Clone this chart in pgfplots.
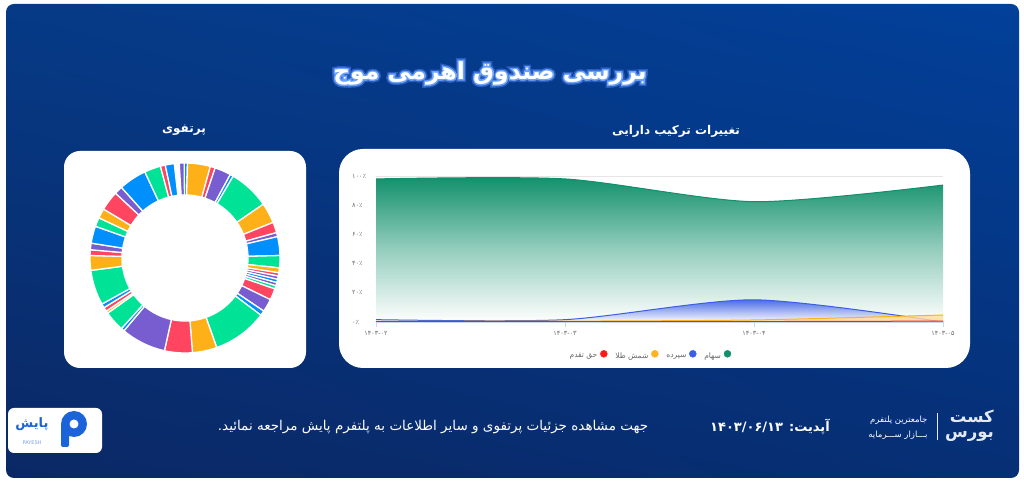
\documentclass[border=0pt]{standalone}
\usepackage{fontspec}
\setmainfont{DejaVu Sans}
\newfontfamily\fa[Script=Arabic]{DejaVu Sans}
\usepackage{pgfplots}
\pgfplotsset{compat=1.18}
\usepgfplotslibrary{polar}
\usetikzlibrary{shadings}
\TeXXeTstate=1
\definecolor{cardA}{HTML}{0B2865}
\definecolor{cardB}{HTML}{02409A}
\definecolor{cardC}{HTML}{063A86}
\definecolor{cardD}{HTML}{062F75}
\definecolor{sahm}{HTML}{11906B}
\definecolor{sepor}{HTML}{3A5EE6}
\definecolor{gold}{HTML}{FFB11F}
\definecolor{haq}{HTML}{FF1A1A}
\definecolor{aG}{HTML}{00E396}
\definecolor{aO}{HTML}{FEB019}
\definecolor{aR}{HTML}{FF4560}
\definecolor{aP}{HTML}{775DD0}
\definecolor{aB}{HTML}{008FFB}
\definecolor{axisC}{HTML}{CCD6EB}
\definecolor{gridC}{HTML}{E6E6E6}
\definecolor{labC}{HTML}{666666}
\definecolor{payB}{HTML}{1B63D8}
\definecolor{logoC}{HTML}{E4EAF4}
\newcommand\fatext[1]{{\fa\beginR #1\endR}}
\newcommand\titletext{\fatext{بررسی صندوق اهرمی موج}}
% donut slice: start, end (degrees clockwise from top), colour
\newcommand\slice[3]{%
  \gdef\pts{}%
  \foreach \k in {0,...,8}{\pgfmathsetmacro\ang{90-(#1)-((#2)-(#1))*\k/8}\xdef\pts{\pts(\ang,95)}}%
  \foreach \k in {8,...,0}{\pgfmathsetmacro\ang{90-(#1)-((#2)-(#1))*\k/8}\xdef\pts{\pts(\ang,63)}}%
  \edef\tmp{\noexpand\addplot[fill=#3,draw=white,line width=1.3pt] coordinates {\pts} -- cycle;}\tmp}
\begin{document}
\begin{tikzpicture}[x=1pt,y=1pt]
\path[use as bounding box] (0,0) rectangle (1024,486);
\fill[white] (0,0) rectangle (1024,486);
\shade[rounded corners=8pt, lower left=cardA, upper right=cardB, upper left=cardC, lower right=cardD] (6,8) rectangle (1019,482);
% panels
\fill[white, rounded corners=16pt] (64,118) rectangle (306,335);
\fill[white, rounded corners=24pt] (339,118) rectangle (970,337);
% title with glow (stroked outlines under the white text)
\node[text=white, font=\bfseries\fontsize{23.5}{27}\selectfont] at (490,413)
  {\rlap{\special{pdf:literal 1 Tr 6 w 0.16 0.36 0.74 RG}\titletext}%
   \rlap{\special{pdf:literal 1 Tr 3 w 0.42 0.64 0.98 RG}\titletext}%
   \special{pdf:literal 0 Tr}\titletext};
\node[text=white, font=\bfseries\fontsize{12}{14}\selectfont] at (676,355) {\fatext{تغییرات ترکیب دارایی}};
\node[text=white, font=\bfseries\fontsize{12}{14}\selectfont] at (184,356) {\fatext{پرتفوی}};
% bottom texts
\node[text=white, font=\fontsize{13.5}{15}\selectfont] at (433,59) {\fatext{جهت مشاهده جزئیات پرتفوی و سایر اطلاعات به پلتفرم پایش مراجعه نمائید.}};
\node[text=white, font=\bfseries\fontsize{13}{15}\selectfont] at (770,59) {\fatext{آپدیت: \beginL۱۴۰۳/۰۶/۱۳\endL}};
\node[text=logoC, font=\bfseries\fontsize{16.5}{15}\selectfont, anchor=east, inner sep=0pt, align=right] at (994,60) {\fatext{کست}\\\fatext{بورس}};
\draw[logoC, line width=0.6pt] (937,73) -- (937,46);
\node[text=white, font=\fontsize{8.5}{15}\selectfont, anchor=east, align=right] at (931,58) {\fatext{جامعترین پلتفرم}\\\fatext{بـــازار ســـرمایه}};
% payesh logo
\fill[white, rounded corners=6pt] (8,33) rectangle (102,78);
\node[text=payB, font=\bfseries\fontsize{13}{14}\selectfont] at (32,62) {\fatext{پایش}};
\node[text=payB!60!white, font=\fontsize{5}{6}\selectfont] at (32,43) {PAYESH};
\fill[payB] (74,62) circle (13);
\fill[payB, rounded corners=2pt] (61,39) rectangle (69,62);
\fill[white] (74,62) circle (4.5);

% area chart
\begin{axis}[
  at={(376pt,164pt)}, anchor=south west, scale only axis,
  width=567pt, height=146pt,
  xmin=0, xmax=3, ymin=0, ymax=100,
  axis x line*=bottom, axis y line*=left,
  x axis line style={draw=axisC, line width=0.6pt, -},
  y axis line style={draw=none},
  xtick={0,1,2,3},
  xticklabels={{۱۴۰۳-۰۲},{۱۴۰۳-۰۳},{۱۴۰۳-۰۴},{۱۴۰۳-۰۵}},
  ytick={0,20,40,60,80,100},
  yticklabels={{۰٪},{۲۰٪},{۴۰٪},{۶۰٪},{۸۰٪},{۱۰۰٪}},
  ymajorgrids, grid style={draw=gridC, line width=0.6pt},
  xtick style={draw=axisC, line width=0.6pt},
  ytick style={draw=none},
  major tick length=5pt, tick align=outside,
  tick label style={text=labC, font=\fa\fontsize{6.5}{7}\selectfont},
  yticklabel style={anchor=west, inner sep=0pt, xshift=-19pt},
  xticklabel style={yshift=-1pt},
  legend style={at={(0.482,-0.234)}, anchor=center, draw=none, fill=none,
     legend columns=4, font=\fontsize{7.5}{9}\selectfont, text=labC,
     /tikz/every even column/.append style={column sep=6pt},
     /tikz/every odd column/.append style={column sep=1pt}},
  legend plot pos=right,
  legend image post style={yshift=2.6pt},
]
\addplot[forget plot, smooth, tension=0.45, draw=none, top color=sahm, bottom color=white, middle color=sahm!45!white]
  coordinates {(0,98) (1,98) (2,82.4) (3,93.8)} \closedcycle;
\addplot[forget plot, smooth, tension=0.45, draw=sahm, line width=1pt]
  coordinates {(0,98) (1,98) (2,82.4) (3,93.8)};
\addplot[forget plot, smooth, tension=0.45, draw=none, top color=sepor, bottom color=white, opacity=0.9]
  coordinates {(0,1.6) (1,1.6) (2,15.2) (3,0)} \closedcycle;
\addplot[forget plot, smooth, tension=0.45, draw=sepor, line width=1pt]
  coordinates {(0,1.6) (1,1.6) (2,15.2) (3,0)};
\addplot[forget plot, smooth, tension=0.45, draw=none, fill=gold!45!white, opacity=0.8]
  coordinates {(0,0.5) (1,0.6) (2,1.4) (3,4.8)} \closedcycle;
\addplot[forget plot, smooth, tension=0.45, draw=gold, line width=1pt]
  coordinates {(0,0.5) (1,0.6) (2,1.4) (3,4.8)};
\addplot[forget plot, smooth, tension=0.45, draw=none, fill=haq!30!white, opacity=0.8]
  coordinates {(0,0.2) (1,0.2) (2,0.3) (3,0.6)} \closedcycle;
\addplot[forget plot, smooth, tension=0.45, draw=haq, line width=1pt]
  coordinates {(0,0.2) (1,0.2) (2,0.3) (3,0.6)};
\addlegendimage{only marks, mark=*, mark size=3.5pt, color=haq}
\addlegendentry{\fatext{حق تقدم}}
\addlegendimage{only marks, mark=*, mark size=3.5pt, color=gold}
\addlegendentry{\fatext{شمش طلا}}
\addlegendimage{only marks, mark=*, mark size=3.5pt, color=sepor}
\addlegendentry{\fatext{سپرده}}
\addlegendimage{only marks, mark=*, mark size=3.5pt, color=sahm}
\addlegendentry{\fatext{سهام}}
\end{axis}

% donut
\begin{polaraxis}[at={(185pt,228pt)}, anchor=center, scale only axis,
  width=190pt, height=190pt, ymin=0, ymax=95, hide axis, clip=false]
\slice{-0.5}{1.5}{aB}
\slice{1.5}{15.5}{aO}
\slice{15.5}{18.5}{aR}
\slice{18.5}{28.5}{aP}
\slice{28.5}{30.5}{aB}
\slice{30.5}{55.5}{aG}
\slice{55.5}{68}{aO}
\slice{68}{74.5}{aR}
\slice{74.5}{77}{aP}
\slice{77}{88.5}{aB}
\slice{88.5}{96}{aG}
\slice{96}{99}{aO}
\slice{99}{101}{aR}
\slice{101}{103}{aP}
\slice{103}{105}{aB}
\slice{105}{107}{aP}
\slice{107}{109}{aG}
\slice{109}{116}{aR}
\slice{116}{124}{aP}
\slice{124}{127}{aB}
\slice{127}{160.5}{aG}
\slice{160.5}{175.5}{aO}
\slice{175.5}{192.5}{aR}
\slice{192.5}{220}{aP}
\slice{220}{222}{aB}
\slice{222}{234.5}{aG}
\slice{234.5}{236}{aO}
\slice{236}{238.5}{aR}
\slice{238.5}{241}{aB}
\slice{241}{262.5}{aG}
\slice{262.5}{271.5}{aO}
\slice{271.5}{275}{aR}
\slice{275}{279}{aP}
\slice{279}{289.5}{aB}
\slice{289.5}{295}{aG}
\slice{295}{301}{aO}
\slice{301}{313}{aR}
\slice{313}{318}{aP}
\slice{318}{335}{aB}
\slice{335}{345}{aG}
\slice{345}{348}{aR}
\slice{348}{353.5}{aB}
\slice{356.5}{359.5}{aP}
\end{polaraxis}
\end{tikzpicture}
\end{document}
